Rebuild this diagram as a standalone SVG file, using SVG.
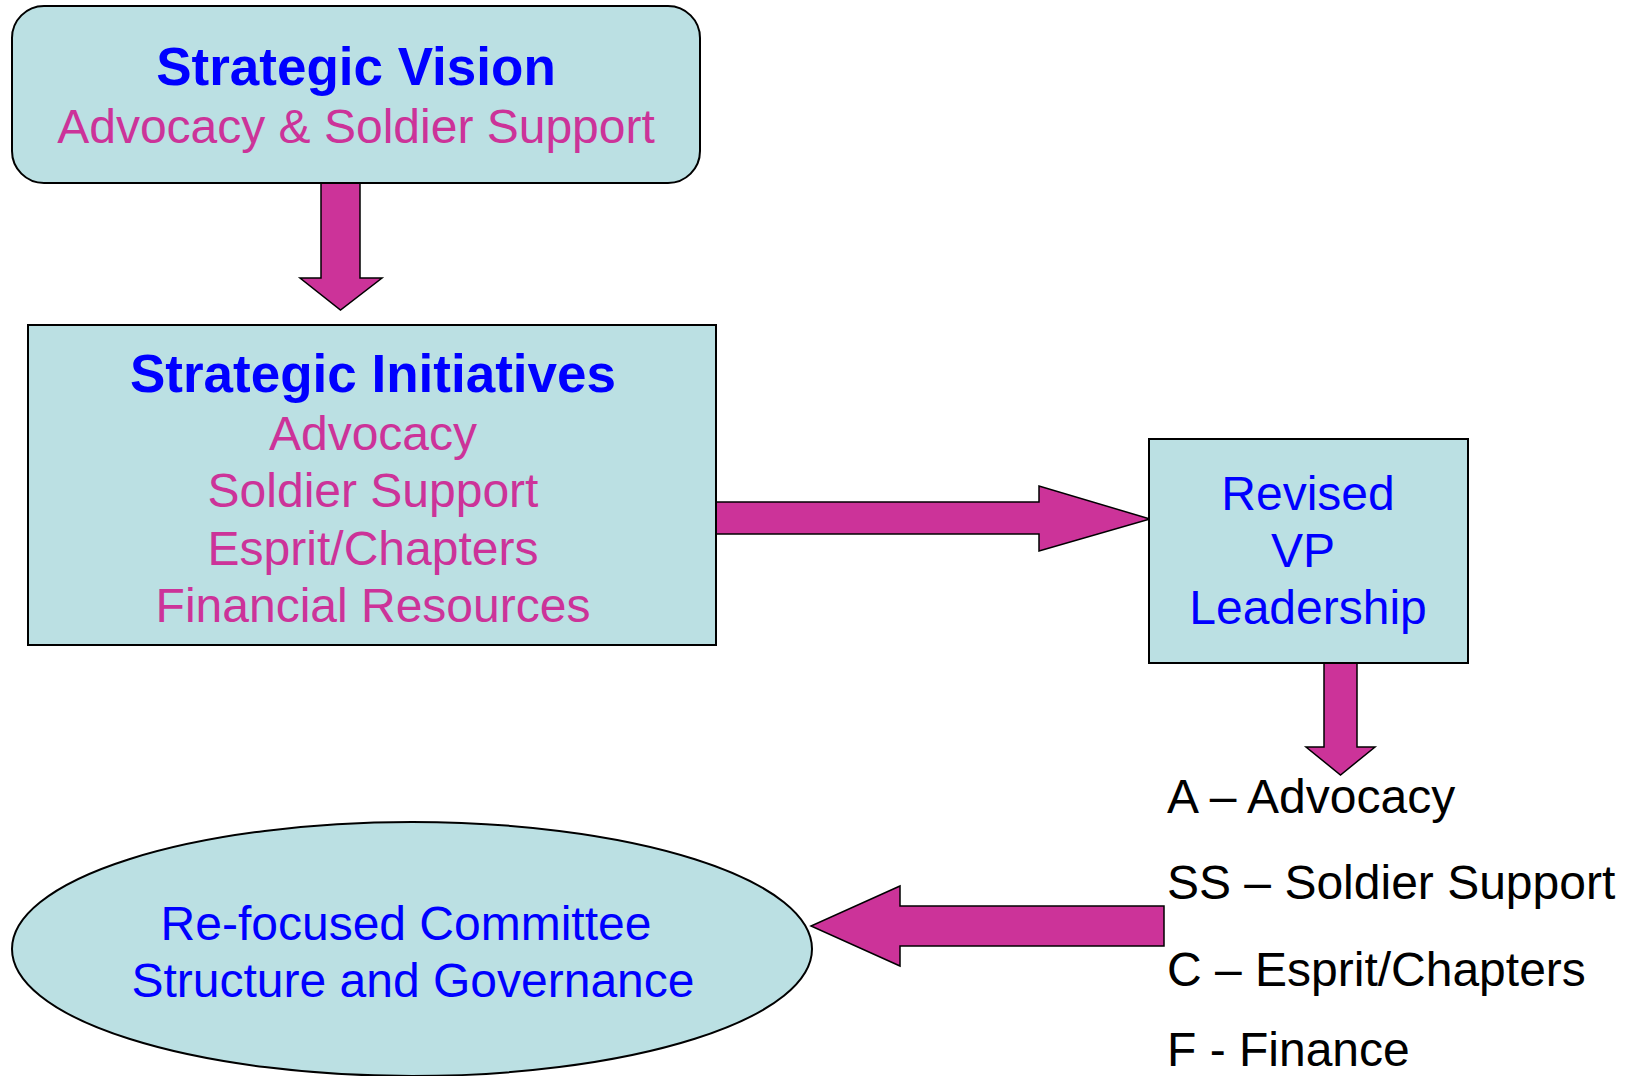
<svg xmlns="http://www.w3.org/2000/svg" width="1625" height="1076" viewBox="0 0 1625 1076">
<style>
.node{fill:#BBE0E3;stroke:#000;stroke-width:2}
.arrow{fill:#CC3399;stroke:#000;stroke-width:1.5;stroke-linejoin:miter}
.t{font-family:"Liberation Sans",Arial,sans-serif;font-size:48px}
.title{font-family:"Liberation Sans",Arial,sans-serif;font-size:53px;font-weight:bold;fill:#0000FF}
.mag{fill:#CC3399}
.blue{fill:#0000FF}
.blk{fill:#000}
</style>
<rect width="1625" height="1076" fill="#fff"/>
<g id="connectors">
<polygon class="arrow" points="321,183 360,183 360,278 382,278 340.5,310 300,278 321,278"/>
<polygon class="arrow" points="716,502 1039,502 1039,486 1150,519 1039,551 1039,534 716,534"/>
<polygon class="arrow" points="1324,663 1357,663 1357,747 1375,747 1340.5,775 1306,747 1324,747"/>
<polygon class="arrow" points="1164,906 900,906 900,886 811,926 900,966 900,946 1164,946"/>
</g>
<g id="vision">
<rect class="node" x="12" y="6" width="688" height="177" rx="32" ry="32"/>
<text class="title" x="356" y="85" text-anchor="middle">Strategic Vision</text>
<text class="t mag" x="356" y="143" text-anchor="middle">Advocacy &amp; Soldier Support</text>
</g>
<g id="initiatives">
<rect class="node" x="28" y="325" width="688" height="320"/>
<text class="title" x="373" y="392" text-anchor="middle">Strategic Initiatives</text>
<text class="t mag" x="373" y="450" text-anchor="middle">Advocacy</text>
<text class="t mag" x="373" y="507" text-anchor="middle">Soldier Support</text>
<text class="t mag" x="373" y="565" text-anchor="middle">Esprit/Chapters</text>
<text class="t mag" x="373" y="622" text-anchor="middle">Financial Resources</text>
</g>
<g id="vp">
<rect class="node" x="1149" y="439" width="319" height="224"/>
<text class="t blue" x="1308" y="510" text-anchor="middle">Revised</text>
<text class="t blue" x="1303" y="567" text-anchor="middle">VP</text>
<text class="t blue" x="1308" y="624" text-anchor="middle">Leadership</text>
</g>
<g id="list">
<text class="t blk" x="1167" y="813">A – Advocacy</text>
<text class="t blk" x="1167" y="899">SS – Soldier Support</text>
<text class="t blk" x="1167" y="986">C – Esprit/Chapters</text>
<text class="t blk" x="1167" y="1066">F - Finance</text>
</g>
<g id="committee">
<ellipse class="node" cx="412" cy="949" rx="400" ry="127"/>
<text class="t blue" x="406" y="940" text-anchor="middle">Re-focused Committee</text>
<text class="t blue" x="413" y="997" text-anchor="middle">Structure and Governance</text>
</g>
</svg>
